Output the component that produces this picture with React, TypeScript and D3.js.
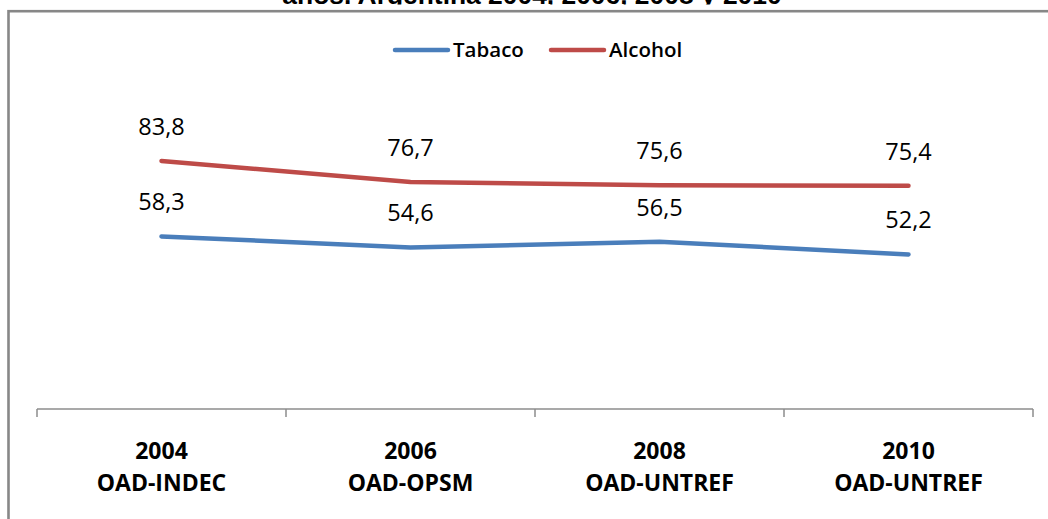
import * as d3 from "d3";

const years = ["2004", "2006", "2008", "2010"];
const sources = ["OAD-INDEC", "OAD-OPSM", "OAD-UNTREF", "OAD-UNTREF"];
const tabaco = [58.3, 54.6, 56.5, 52.2];
const alcohol = [83.8, 76.7, 75.6, 75.4];
const seriesNames = ["Tabaco", "Alcohol"];
const seriesColors = ["#4a7ebb", "#be4b48"];
const title = "años. Argentina 2004, 2006, 2008 y 2010";

const width = 1048;
const height = 519;

function App() {
  const xScale = d3.scaleBand<number>().domain(d3.range(years.length)).range([37, 1033]).padding(0);
  const yScale = d3.scaleLinear().domain([0, 100]).range([409, 113]);
  const cx = (i: number) => (xScale(i) as number) + xScale.bandwidth() / 2;

  const line = d3
    .line<number>()
    .x((d, i) => cx(i))
    .y((d) => yScale(d));

  const series = [tabaco, alcohol];
  const tickXs = d3.range(years.length + 1).map((i) =>
    i < years.length ? (xScale(i) as number) : (xScale(i - 1) as number) + xScale.bandwidth()
  );

  return (
    <svg
      width={width}
      height={height}
      style={{ position: "absolute", left: 0, top: 0, background: "#fff" }}
      fontFamily="'Open Sans', sans-serif"
    >
      <defs>
        <clipPath id="titleClip">
          <rect x={0} y={-40} width={width} height={44.5} />
        </clipPath>
      </defs>
      <rect x={0} y={0} width={width} height={height} fill="#fff" />
      {/* title, cut off at the top in the reference */}
      <text
        x={532}
        y={4}
        textAnchor="middle"
        fontFamily="'Liberation Sans', Arial, sans-serif"
        fontWeight="bold"
        fontSize={26.4}
        fill="#000"
        clipPath="url(#titleClip)"
      >
        {title}
      </text>
      {/* chart frame */}
      <rect x={8.5} y={11.2} width={1100} height={600} fill="#fff" stroke="#878787" strokeWidth={2.6} />

      {/* legend */}
      {seriesNames.map((name, i) => {
        const lx = i === 0 ? 395 : 551;
        return (
          <g key={name}>
            <line x1={lx} x2={lx + 53} y1={50} y2={50} stroke={seriesColors[i]} strokeWidth={4.5} strokeLinecap="round" />
            <text x={lx + 58} y={57} fontSize={20.5} fontWeight={600} fill="#000">
              {name}
            </text>
          </g>
        );
      })}

      {/* x axis */}
      <line x1={tickXs[0]} x2={tickXs[tickXs.length - 1]} y1={409} y2={409} stroke="#8c8c8c" strokeWidth={1.5} />
      {tickXs.map((x, i) => (
        <line key={i} x1={x} x2={x} y1={409} y2={417} stroke="#8c8c8c" strokeWidth={1.5} />
      ))}
      {years.map((y, i) => (
        <g key={y} fontWeight="bold" fontSize={23} fill="#000" textAnchor="middle">
          <text x={cx(i)} y={459}>
            {y}
          </text>
          <text x={cx(i)} y={491}>
            {sources[i]}
          </text>
        </g>
      ))}

      {/* lines */}
      {series.map((s, k) => (
        <path key={k} d={line(s) as string} fill="none" stroke={seriesColors[k]} strokeWidth={4.5} strokeLinecap="round" strokeLinejoin="round" />
      ))}

      {/* data labels */}
      {series.map((s, k) =>
        s.map((v, i) => (
          <text key={k + "-" + i} x={cx(i)} y={yScale(v) - 26} textAnchor="middle" fontSize={23.5} fontWeight={500} fill="#000">
            {v.toFixed(1).replace(".", ",")}
          </text>
        ))
      )}
    </svg>
  );
}

export default App;
